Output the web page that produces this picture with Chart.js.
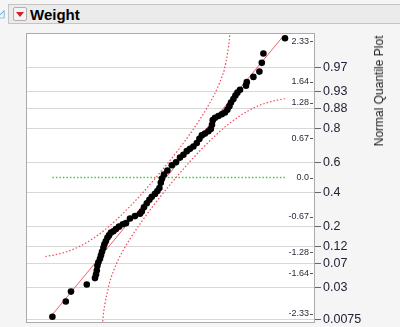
<!DOCTYPE html>
<html>
<head>
<meta charset="utf-8">
<script src="https://cdn.jsdelivr.net/npm/chart.js@4"></script>
<style>
  html, body { margin: 0; padding: 0; background: #f5f5f5; }
  body { width: 400px; height: 327px; position: relative; overflow: hidden; font-family: 'Liberation Sans', Arial, sans-serif; }
  #chart { position: absolute; left: 0; top: 0; }
  .outline { position: absolute; left: -4px; top: 7px; color: #3a9ad9; font-size: 11px; z-index: 2; }
  .header { position: absolute; left: 8px; top: 4px; width: 400px; height: 18px; background: #ebebeb; border: 1px solid #c4c4c4; z-index: 2; }
  .btn { position: absolute; left: 4px; top: 2px; width: 12px; height: 12px; border: 1px solid #b0b0b0; border-radius: 2px; background: #f4f4f4; }
  .btn::after { content: ''; position: absolute; left: 2px; top: 4px; border-left: 4px solid transparent; border-right: 4px solid transparent; border-top: 5px solid #d0202a; }
  .title { position: absolute; left: 21px; top: 0; font-weight: bold; font-size: 15px; line-height: 19px; color: #000; }
  .ytitle { position: absolute; left: 379px; top: 91px; transform: translate(-50%, -50%) rotate(-90deg); font-size: 12px; white-space: nowrap; color: #222; z-index: 2; }
</style>
</head>
<body>
<span class="outline">&#9727;</span>
<div class="header"><div class="btn"></div><div class="title">Weight</div></div>
<div class="ytitle">Normal Quantile Plot</div>
<canvas id="chart" width="400" height="327"></canvas>
<script>
// outer axis: probabilities, placed at their normal quantiles
const probLabels = ['0.97', '0.93', '0.88', '0.8', '0.6', '0.4', '0.2', '0.12', '0.07', '0.03', '0.0075'];
const probTickZ = [1.881, 1.476, 1.175, 0.842, 0.253, -0.253, -0.842, -1.175, -1.476, -1.881, -2.432];

// inner axis: normal quantile values
const quantileLabels = ['2.33', '1.64', '1.28', '0.67', '0.0', '-0.67', '-1.28', '-1.64', '-2.33'];
const quantileTickZ = [2.33, 1.64, 1.28, 0.67, 0, -0.67, -1.28, -1.64, -2.33];

// sorted weights and their normal quantile
const weights = [93.2, 99.9, 102.5, 110.4, 114.5, 115.0, 115.4, 115.7, 116.2, 117.0,
  117.5, 118.0, 118.7, 119.2, 119.9, 120.7, 121.5, 122.5, 123.7, 125.0,
  126.5, 128.4, 130.0, 132.0, 134.5, 137.0, 137.9, 139.0, 140.4, 141.7,
  142.9, 144.5, 145.7, 146.7, 147.4, 148.0, 149.0, 150.7, 152.9, 155.0,
  157.0, 158.7, 160.4, 162.0, 163.7, 165.4, 166.7, 167.9, 169.5, 171.2,
  172.4, 173.0, 173.4, 174.5, 176.2, 177.9, 179.5, 180.7, 181.7, 182.5,
  183.7, 184.7, 185.7, 187.0, 190.0, 190.4, 193.7, 196.7, 197.9, 198.7, 209.5];
const quantiles = [-2.38, -2.12, -1.95, -1.83, -1.72, -1.66, -1.59, -1.51, -1.45, -1.39,
  -1.33, -1.27, -1.20, -1.14, -1.09, -1.03, -0.99, -0.94, -0.92, -0.88,
  -0.84, -0.80, -0.78, -0.70, -0.66, -0.62, -0.58, -0.51, -0.44, -0.38,
  -0.33, -0.28, -0.23, -0.18, -0.09, -0.02, 0.05, 0.12, 0.21, 0.26,
  0.34, 0.39, 0.45, 0.49, 0.53, 0.59, 0.66, 0.72, 0.75, 0.79,
  0.83, 0.90, 0.98, 1.02, 1.05, 1.08, 1.11, 1.16, 1.22, 1.28,
  1.34, 1.40, 1.45, 1.50, 1.57, 1.63, 1.72, 1.81, 1.96, 2.12, 2.38];

// fitted normal line
const fitX = [92.3, 208.7];
const fitZ = [-2.38, 2.42];

// confidence bands
const upperBandX = [89.7, 94.2, 101.5, 107.6, 113.6, 119.7, 125.8, 131.8, 137.9, 143.9, 150.0, 156.1,
  162.1, 168.2, 171.8, 174.3, 176.7, 177.9, 179.1, 181.0, 181.6, 182.0, 182.3];
const upperBandZ = [-1.350, -1.324, -1.255, -1.165, -1.041, -0.887, -0.704, -0.500, -0.278, -0.042, 0.207, 0.470,
  0.750, 1.060, 1.269, 1.428, 1.610, 1.716, 1.837, 2.176, 2.334, 2.484, 2.580];
const lowerBandX = [118.0, 118.3, 118.7, 119.4, 121.5, 122.5, 123.6, 125.8, 128.2, 131.8, 137.9, 143.9,
  150.0, 156.1, 162.1, 168.2, 174.3, 180.3, 186.4, 192.4, 198.5, 205.8, 209.8];
const lowerBandZ = [-2.580, -2.484, -2.334, -2.175, -1.837, -1.716, -1.610, -1.428, -1.269, -1.060, -0.750, -0.470,
  -0.207, 0.042, 0.278, 0.500, 0.704, 0.887, 1.041, 1.165, 1.255, 1.324, 1.348];

// reference line at quantile 0
const zeroLineX = [93.2, 209.5];
const zeroLineZ = [0, 0];

const pairs = (xs, ys) => xs.map((x, i) => ({ x: x, y: ys[i] }));

const frame = {
  id: 'frame',
  beforeDraw(chart) {
    const { ctx, chartArea: a } = chart;
    ctx.save();
    ctx.fillStyle = '#ffffff';
    ctx.fillRect(a.left, a.top, a.right - a.left, a.bottom - a.top);
    ctx.restore();
  },
  afterDraw(chart) {
    const { ctx, chartArea: a } = chart;
    const y2 = chart.scales.y2;
    ctx.save();
    ctx.strokeStyle = '#555';
    ctx.lineWidth = 1;
    quantileTickZ.forEach(v => {
      const py = Math.round(y2.getPixelForValue(v)) + 0.5;
      ctx.beginPath();
      ctx.moveTo(a.right - 5, py);
      ctx.lineTo(a.right - 2, py);
      ctx.stroke();
    });
    ctx.strokeStyle = '#aaaaaa';
    ctx.strokeRect(a.left + 0.5, a.top + 0.5, a.right - a.left - 1, a.bottom - a.top);
    ctx.restore();
  }
};

const noPad = s => { s.paddingTop = 0; s.paddingBottom = 0; };

new Chart(document.getElementById('chart'), {
  type: 'scatter',
  data: {
    datasets: [
      {
        data: pairs(weights, quantiles),
        backgroundColor: '#000',
        borderWidth: 0,
        pointRadius: 3.3
      },
      {
        type: 'line',
        data: pairs(fitX, fitZ),
        borderColor: '#f0606c',
        borderWidth: 1,
        pointRadius: 0
      },
      {
        type: 'line',
        data: pairs(upperBandX, upperBandZ),
        borderColor: '#f04858',
        borderWidth: 1.2,
        borderDash: [1.5, 2],
        cubicInterpolationMode: 'monotone',
        pointRadius: 0
      },
      {
        type: 'line',
        data: pairs(lowerBandX, lowerBandZ),
        borderColor: '#f04858',
        borderWidth: 1.2,
        borderDash: [1.5, 2],
        cubicInterpolationMode: 'monotone',
        pointRadius: 0
      },
      {
        type: 'line',
        data: pairs(zeroLineX, zeroLineZ),
        borderColor: '#44c844',
        borderWidth: 1.5,
        borderDash: [1.5, 2],
        pointRadius: 0
      }
    ]
  },
  options: {
    responsive: false,
    animation: false,
    layout: { padding: { left: 26, top: 33, right: 0, bottom: 5 } },
    plugins: { legend: { display: false }, tooltip: { enabled: false } },
    scales: {
      x: { type: 'linear', display: false, min: 80, max: 224.5 },
      y2: {
        type: 'linear',
        position: 'right',
        weight: -1,
        min: -2.47,
        max: 2.47,
        grid: { display: false },
        border: { display: false },
        afterBuildTicks: s => { s.ticks = quantileTickZ.map(v => ({ value: v })); },
        afterFit: s => { s.width = 0; noPad(s); },
        ticks: {
          mirror: true,
          padding: -6,
          autoSkip: false,
          font: { family: 'Liberation Sans', size: 9 },
          color: '#2a2a3a',
          callback: (v, i) => quantileLabels[i]
        }
      },
      y: {
        type: 'linear',
        position: 'right',
        weight: 1,
        min: -2.47,
        max: 2.47,
        grid: { color: '#d8d8d8', tickColor: '#666', tickLength: 6 },
        border: { display: false },
        afterBuildTicks: s => { s.ticks = probTickZ.map(v => ({ value: v })); },
        afterFit: s => { s.width = 85; noPad(s); },
        ticks: {
          padding: 2,
          autoSkip: false,
          font: { family: 'Liberation Sans', size: 12.5 },
          color: '#202336',
          callback: (v, i) => probLabels[i]
        }
      }
    }
  },
  plugins: [frame]
});
</script>
</body>
</html>
